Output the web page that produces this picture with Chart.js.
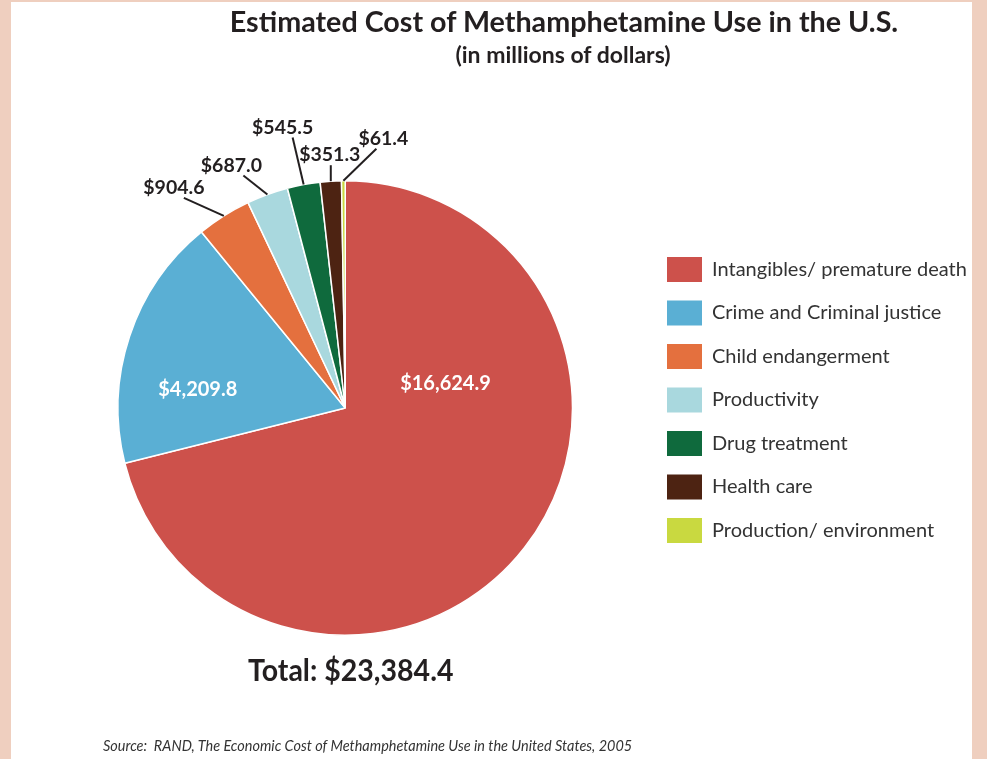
<!DOCTYPE html>
<html>
<head>
<meta charset="utf-8">
<script src="https://cdn.jsdelivr.net/npm/chart.js@4.4.1/dist/chart.umd.min.js"></script>
<style>
    html, body { margin: 0; padding: 0; }
    body { width: 987px; height: 759px; background: #efcfbf; position: relative; overflow: hidden; font-family: Lato, sans-serif; }
    #panel { position: absolute; left: 11px; top: 2px; width: 961px; height: 757px; background: #fff; }
    #wrap { position: absolute; left: 0; top: 0; width: 961px; height: 757px; }
    .txt { position: absolute; white-space: nowrap; color: #231f20; line-height: 1; }
    #title { left: 553px; top: 5px; font-size: 28.7px; font-weight: 700; transform: translateX(-50%); }
    #subtitle { left: 552px; top: 41px; font-size: 23px; font-weight: 700; transform: translateX(-50%); }
    #total { left: 237px; top: 652px; font-size: 31px; font-weight: 700; transform: scaleX(0.92); transform-origin: left center; }
    #source { left: 92px; top: 736px; font-size: 15px; font-style: italic; color: #333; transform: scaleX(0.964); transform-origin: left center; }
</style>
</head>
<body>
<div id="panel">
    <div id="wrap"><canvas id="myChart"></canvas></div>
    <div class="txt" id="title">Estimated Cost of Methamphetamine Use in the U.S.</div>
    <div class="txt" id="subtitle">(in millions of dollars)</div>
    <div class="txt" id="total">Total: $23,384.4</div>
    <div class="txt" id="source">Source:&nbsp; RAND, The Economic Cost of Methamphetamine Use in the United States, 2005</div>
</div>
<script>
// cost categories, millions of dollars
const categories = [
    'Intangibles/ premature death',
    'Crime and Criminal justice',
    'Child endangerment',
    'Productivity',
    'Drug treatment',
    'Health care',
    'Production/ environment'
];
const costs = [16624.9, 4209.8, 904.6, 687.0, 545.5, 351.3, 61.4];
const colors = ['#cd514b', '#5aafd4', '#e4703e', '#a9d8de', '#0f6a3d', '#4d2312', '#c9d940'];

// where each value label goes: inside the slice (offset as fraction of radius)
// or outside with a leader line from the slice edge
const labelPlacement = [
    { inside: true, fx: 0.441, fy: -0.107 },
    { inside: true, fx: -0.649, fy: -0.083 },
    { dx: -40, dy: -18, tx: -10 },
    { dx: -24, dy: -19, tx: -12 },
    { dx: -11, dy: -47, tx: -10 },
    { dx: 0, dy: -16, tx: -1 },
    { dx: 33, dy: -32, tx: 7 }
];

const legendFont = 20;
const legendBox = 35;
const legendBoxLeft = 656;

const sliceLabels = {
    id: 'sliceLabels',
    afterDatasetsDraw(chart) {
        const ctx = chart.ctx;
        const meta = chart.getDatasetMeta(0);
        ctx.save();
        meta.data.forEach((arc, i) => {
            const p = arc.getProps(['x', 'y', 'startAngle', 'endAngle', 'outerRadius'], true);
            const text = '$' + costs[i].toLocaleString('en-US', { minimumFractionDigits: 1 });
            const place = labelPlacement[i];
            if (place.inside) {
                ctx.font = 'bold 20px Lato';
                ctx.fillStyle = '#fff';
                ctx.textAlign = 'center';
                ctx.textBaseline = 'middle';
                ctx.fillText(text, p.x + place.fx * p.outerRadius, p.y + place.fy * p.outerRadius);
            } else {
                const mid = (p.startAngle + p.endAngle) / 2;
                const ex = p.x + Math.cos(mid) * p.outerRadius;
                const ey = p.y + Math.sin(mid) * p.outerRadius;
                const lx = ex + place.dx;
                const ly = ey + place.dy;
                ctx.strokeStyle = '#231f20';
                ctx.lineWidth = 2;
                ctx.beginPath();
                ctx.moveTo(ex, ey);
                ctx.lineTo(lx, ly);
                ctx.stroke();
                ctx.font = 'bold 19.5px Lato';
                ctx.fillStyle = '#231f20';
                ctx.textAlign = 'center';
                ctx.textBaseline = 'alphabetic';
                ctx.fillText(text, lx + place.tx, ly - 4);
            }
        });
        ctx.restore();
    }
};

const chart = () => {
    // right padding so the legend boxes land at the same x whatever the font width
    // (the extra 10 is what the legend adds on its own, found by trying)
    const m = document.createElement('canvas').getContext('2d');
    m.font = 'normal ' + legendFont + 'px Lato';
    const widest = Math.max(...categories.map(c => m.measureText(c).width));
    const padRight = 961 - legendBoxLeft - legendBox - legendFont / 2 - widest - 10;

    const data = {
        labels: categories,
        datasets: [{
            label: 'Cost',
            data: costs,
            backgroundColor: colors,
            borderColor: '#fff',
            borderWidth: 1.5
        }]
    };
    const config = {
        type: 'pie',
        data: data,
        options: {
            responsive: true,
            maintainAspectRatio: false,
            animation: false,
            layout: {
                padding: { left: 31, top: 178, bottom: 123, right: padRight }
            },
            plugins: {
                tooltip: { enabled: false },
                legend: {
                    position: 'right',
                    align: 'start',
                    title: {
                        display: true,
                        text: '',
                        font: { size: 10, lineHeight: 1 },
                        padding: { top: 48.5, bottom: 0 }
                    },
                    labels: {
                        boxWidth: legendBox,
                        boxHeight: 25,
                        padding: 18.5,
                        color: '#333',
                        font: { family: 'Lato', size: legendFont },
                        generateLabels(c) {
                            const items = Chart.overrides.doughnut.plugins.legend.labels.generateLabels(c);
                            items.forEach(it => { it.lineWidth = 0; });
                            return items;
                        }
                    }
                }
            }
        },
        plugins: [sliceLabels]
    };
    new Chart(document.getElementById('myChart'), config);
};

chart();
</script>
</body>
</html>
